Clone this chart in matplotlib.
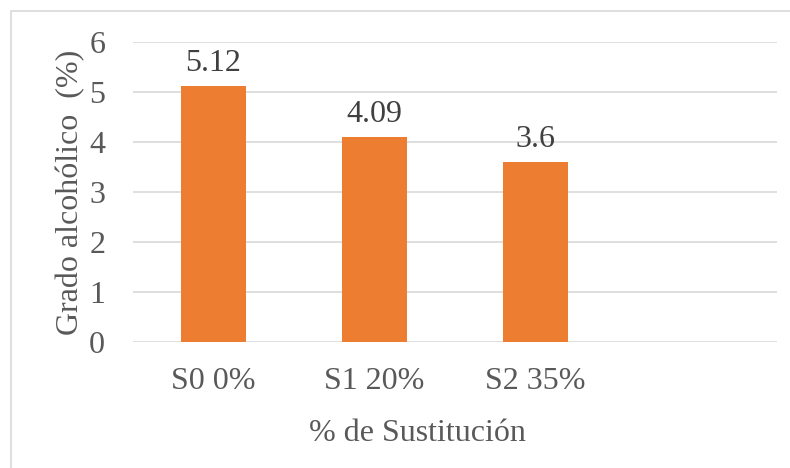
import matplotlib
matplotlib.use("Agg")
import matplotlib.pyplot as plt
from matplotlib.patches import Rectangle

categories = ["S0 0%", "S1 20%", "S2 35%", ""]
values = [5.12, 4.09, 3.6, None]
yticks = [0, 1, 2, 3, 4, 5, 6]

plt.rcParams['font.family'] = ['Liberation Serif', 'DejaVu Serif']

W, H = 790, 468
fig = plt.figure(figsize=(W/100, H/100), dpi=100)
ax = fig.add_axes([133/W, 1-342/H, (777-133)/W, (342-42)/H])

xs = list(range(len(categories)))
bx = [x for x, v in zip(xs, values) if v is not None]
bv = [v for v in values if v is not None]
bars = ax.bar(bx, bv, width=0.4, color="#ED7D31", zorder=3)
for x, v in zip(bx, bv):
    ax.annotate(f"{v:g}", (x, v), xytext=(0, 6), textcoords="offset points",
                ha="center", va="bottom", fontsize=23, color="#404040")

ax.set_xlim(-0.5, len(categories) - 0.5)
ax.set_ylim(0, 6)
ax.set_yticks(yticks)
ax.set_yticklabels([str(t) for t in yticks], fontsize=23, color="#595959")
ax.set_xticks(xs)
ax.set_xticklabels(categories, fontsize=23, color="#595959")
ax.tick_params(axis="both", length=0)
ax.tick_params(axis="y", pad=20)
ax.tick_params(axis="x", pad=18)
ax.grid(axis="y", color="#D9D9D9", linewidth=1.2, zorder=0)
for s in ax.spines.values():
    s.set_visible(False)

ax.set_ylabel("Grado alcohólico  (%)", fontsize=23, color="#595959", labelpad=3)
ax.set_xlabel("% de Sustitución", fontsize=23, color="#595959")
ax.xaxis.set_label_coords((417 - 133) / 644, -(419 - 342) / 300)

fig.patches.append(Rectangle((11/W, -0.1), 1.2, 1 - 11/H + 0.1, transform=fig.transFigure,
                             fill=False, edgecolor="#D9D9D9", linewidth=1.2))

fig.savefig("out.png", dpi=100)
